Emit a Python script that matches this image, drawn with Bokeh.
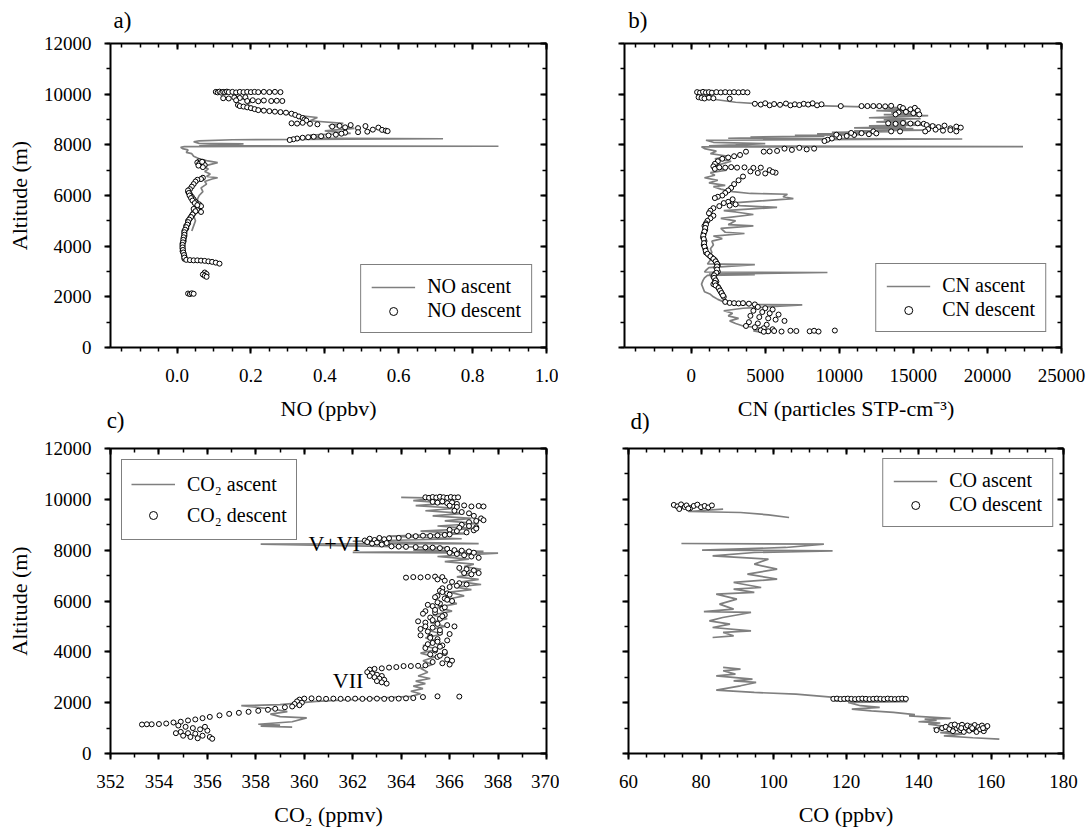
from bokeh.plotting import figure
from bokeh.models import (Range1d, LinearAxis, SingleIntervalTicker, FixedTicker, Legend,
                          LegendItem, ColumnDataSource, PrintfTickFormatter,
                          CustomJSTickFormatter)
from bokeh.layouts import row, column
from bokeh.core.properties import value
from bokeh.embed import file_html
from bokeh.resources import INLINE

NAN = float("nan")
FONT = "Liberation Serif"
GRAY = "#7f7f7f"

# ---------------- data ----------------
ALT_RANGE = (0, 12000)
ALT_TICKS = 2000
PANEL_LETTERS = ["a)", "b)", "c)", "d)"]

# Panel a: NO (ppbv)
NO_RANGE = (-0.18, 1.0)
NO_DESC_VAL = [0.105, 0.11, 0.115, 0.12, 0.125, 0.13, 0.135, 0.14, 0.15, 0.16,
               0.17, 0.18, 0.19, 0.20, 0.21, 0.22, 0.235, 0.25, 0.265, 0.28,
               0.125, 0.14, 0.155, 0.17, 0.185,
               0.16, 0.19, 0.205, 0.22, 0.235, 0.255, 0.27, 0.285,
               0.165, 0.17, 0.18, 0.19, 0.20, 0.21, 0.22, 0.235, 0.25, 0.265,
               0.28, 0.295, 0.31, 0.32, 0.33, 0.34, 0.345, 0.35,
               0.31, 0.325, 0.34, 0.36, 0.38,
               0.42, 0.44, 0.455, 0.47, 0.49, 0.51, 0.53, 0.545, 0.555, 0.565,
               0.57, 0.49, 0.515, 0.455,
               0.445, 0.43, 0.41, 0.39, 0.37, 0.355, 0.34, 0.325, 0.315, 0.305,
               0.06, 0.055, 0.07, 0.065, 0.075, 0.07, 0.06, 0.058, 0.068,
               0.07, 0.065, 0.055, 0.05, 0.045, 0.04, 0.035, 0.03, 0.035, 0.04,
               0.045, 0.05, 0.06, 0.065, 0.05, 0.055, 0.065, 0.045, 0.04, 0.035,
               0.03, 0.03, 0.025, 0.025, 0.02, 0.02, 0.02, 0.018, 0.018, 0.015,
               0.015, 0.015, 0.015, 0.018, 0.02, 0.02,
               0.03, 0.032, 0.034, 0.038, 0.042, 0.048, 0.055, 0.045, 0.05, 0.042,
               0.038, 0.033, 0.03, 0.028, 0.025, 0.022, 0.02, 0.02, 0.018, 0.017,
               0.016, 0.015, 0.015, 0.016, 0.017, 0.019, 0.02,
               0.025, 0.035, 0.045, 0.055, 0.065, 0.075, 0.085, 0.095, 0.105, 0.115,
               0.075, 0.08, 0.07, 0.075, 0.08,
               0.03, 0.035, 0.04, 0.045]
NO_DESC_ALT = [10090, 10070, 10100, 10060, 10090, 10070, 10100, 10080, 10090, 10070,
               10090, 10080, 10090, 10080, 10090, 10080, 10090, 10080, 10090, 10080,
               9840, 9830, 9870, 9850, 9880,
               9760, 9730, 9760, 9720, 9750, 9730, 9740, 9730,
               9570, 9530, 9510, 9480, 9450, 9410, 9370, 9350, 9330, 9310,
               9290, 9270, 9230, 9180, 9120, 9060, 9000, 8960,
               8850, 8840, 8870, 8830, 8810,
               8720, 8750, 8690, 8780, 8660, 8740, 8600, 8680, 8590, 8560,
               8540, 8500, 8520, 8480,
               8440, 8400, 8370, 8340, 8320, 8300, 8280, 8250, 8220, 8190,
               7350, 7300, 7320, 7250, 7200, 7120, 7250, 7180, 7330,
               6700, 6650, 6620, 6550, 6450, 6350, 6250, 6150, 6050, 5950,
               5850, 5750, 5650, 5580, 5500, 5420, 5350, 5300, 5200, 5100,
               5000, 4900, 4800, 4700, 4600, 4500, 4400, 4300, 4200, 4100,
               4000, 3900, 3800, 3700, 3600, 3500,
               6200, 6100, 6000, 5900, 5800, 5700, 5620, 5470, 5380, 5250,
               5150, 5050, 4950, 4850, 4750, 4650, 4550, 4450, 4350, 4250,
               4150, 4050, 3950, 3850, 3750, 3650, 3550,
               3460, 3450, 3440, 3440, 3430, 3420, 3400, 3380, 3350, 3310,
               2960, 2900, 2880, 2830, 2790,
               2130, 2110, 2140, 2120]
NO_ASC_VAL = [0.04, 0.045, 0.05, 0.045, 0.055, 0.07, 0.06, 0.055, 0.06, 0.07,
              0.065, 0.08, 0.075, 0.095, 0.11, 0.08, 0.09, 0.075, 0.085, 0.07,
              0.11, 0.08, 0.06, 0.045, 0.04, 0.025, 0.03, 0.015, 0.01, 0.02,
              0.87, 0.06, 0.18, 0.06, 0.045, 0.06, 0.15, 0.72, 0.3, 0.4,
              0.36, 0.47, 0.4, 0.48, 0.41, 0.45, 0.36, 0.38, 0.33, 0.29,
              0.25, 0.21, 0.19, 0.2, 0.17, 0.15, 0.2, 0.26]
NO_ASC_ALT = [4600, 4800, 5000, 5200, 5400, 5550, 5700, 5850, 6000, 6150,
              6300, 6450, 6550, 6650, 6700, 6750, 6850, 6950, 7050, 7150,
              7300, 7380, 7450, 7550, 7650, 7700, 7800, 7850, 7900, 7930,
              7945, 7960, 8040, 8060, 8120, 8160, 8200, 8240, 8270, 8300,
              8380, 8450, 8550, 8650, 8750, 8850, 8950, 9080, 9150, 9250,
              9350, 9450, 9550, 9700, 9850, 10000, 10080, 10100]

# Panel b: CN (particles STP-cm-3)
CN_RANGE = (-4500, 25000)
CN_DESC_VAL = [400, 600, 800, 1000, 1200, 1400, 1700, 2000, 2300, 2600, 2900, 3200, 3500, 3800,
               500, 700, 900, 1200, 1500, 2600,
               4300, 4700, 5000, 5300, 5600, 6000, 6400, 6700, 7000, 7300, 7600, 7900, 8200, 8500, 8800, 10100,
               11500, 11900, 12300, 12700, 13100, 13500, 14100,
               14300, 14800, 15100, 15300, 14500, 15000, 15400, 14000, 13800,
               13300, 13800, 14300, 14800, 15300, 15700,
               15900, 16300, 16700, 17100, 17500, 17900, 18200, 16500, 17000, 17500, 17900, 16000,
               12300, 13500, 14100, 15800,
               12500, 12000, 11500, 11000, 10500, 10000, 9500, 9200, 9000, 9800, 10800,
               8300, 7800, 7300, 6800, 6300, 5800, 5300, 4900,
               3700, 3300, 2900, 2500, 2100, 1800, 1600, 1500, 1600,
               1900, 2300, 2700, 3100, 3600, 4200, 4700, 5300, 5700, 5500, 5000, 4500, 4000,
               3500, 3200, 2900, 2700, 2500, 2300, 2100, 1800, 1600, 2800, 2500, 2200, 3000, 2600,
               1900, 1500, 1300, 1200, 1500, 1300, 1100, 1000,
               900, 950, 850, 800, 900, 850, 950, 1000, 1200, 1400, 1600, 1700, 1800, 1700,
               1800, 1600, 1500, 1600, 1700, 1500, 1800, 1900, 2000, 2100, 2200,
               1000, 950, 900, 820, 850, 870, 900, 980, 1100, 1300, 1500, 1650, 1750,
               1750, 1750, 1700, 1550, 1550, 1650, 1600, 1650, 1850, 1950, 2050, 2150,
               2300, 2600, 2900, 3200, 3500, 3900, 4300,
               4500, 5000, 5500, 4200, 4800, 5300, 5900, 4000, 4600, 5200, 5700, 6300,
               3900, 4500, 5100, 3700, 4300, 4900, 5500, 4700,
               5200, 5600, 6100, 6700, 7100, 8000, 8300, 8600, 9700, 4900]
CN_DESC_ALT = [10080, 10060, 10090, 10070, 10080, 10060, 10080, 10070, 10080, 10070, 10080, 10070, 10080, 10070,
               9880, 9850, 9830, 9860, 9840, 9820,
               9620, 9590, 9640, 9560, 9610, 9580, 9630, 9560, 9600, 9570, 9620, 9590, 9640, 9560, 9600, 9530,
               9530, 9530, 9530, 9530, 9520, 9540, 9500,
               9450, 9400, 9460, 9350, 9300, 9250, 9200, 9280, 9200,
               8850, 8830, 8860, 8840, 8850, 8830,
               8780, 8740, 8700, 8760, 8650, 8720, 8680, 8600, 8560, 8580, 8530, 8620,
               8530, 8530, 8530, 8530,
               8450, 8420, 8460, 8390, 8350, 8300, 8250, 8200, 8150, 8400, 8470,
               7850, 7820, 7880, 7800, 7850, 7760, 7740, 7730,
               7730, 7600, 7550, 7500, 7450, 7350, 7250, 7150, 7050,
               7110, 7100, 7120, 7100, 7110, 7090, 7100, 7000, 6900, 6930, 6870, 6890, 6950,
               6750, 6600, 6450, 6300, 6200, 6100, 6000, 5950, 5900, 5850, 5750, 5700, 5650, 5600,
               5580, 5500, 5400, 5300, 5200, 5100, 5000, 4900,
               4800, 4650, 4500, 4350, 4200, 4050, 3900, 3750, 3650, 3550, 3450, 3350, 3250, 3150,
               3000, 2900, 2800, 2700, 2600, 2500, 2400, 2300, 2200, 2100, 2000,
               4850, 4720, 4580, 4420, 4280, 4120, 3980, 3820, 3700, 3600, 3500, 3400, 3300,
               3200, 3080, 2950, 2850, 2750, 2650, 2550, 2450, 2350, 2250, 2150, 2050,
               1800, 1760, 1750, 1740, 1750, 1730, 1700,
               1600, 1550, 1500, 1450, 1400, 1350, 1300, 1250, 1200, 1150, 1100, 1050,
               1000, 950, 900, 850, 800, 760, 720, 680,
               640, 650, 630, 660, 650, 640, 660, 630, 670, 620]
CN_ASC_VAL = [5200, 4200, 4800, 3500, 3000, 2600, 3200, 2500, 2800, 2200,
              3500, 7500, 3000, 2200, 1800, 1500, 1300, 900, 800, 700,
              800, 900, 1100, 4300, 1200, 9200, 900, 1000, 1200, 4300,
              1100, 1300, 1200, 1400, 1300, 1500, 1400, 2100, 1500, 3600,
              2300, 2000, 4200, 2500, 3000, 2000, 4200, 3000, 2200, 5800,
              3300, 2600, 6900, 6200, 6500, 4000, 2800, 2000, 1500, 2300,
              1200, 1800, 900, 1600, 1300, 2400, 1500, 1800, 2700, 1600,
              2500, 1300, 1700, 900, 700, 22400, 1200, 3000, 5000, 1500,
              1000, 18300, 2500, 6000, 4000, 9000, 7000, 11500, 8500, 12500,
              9500, 13500, 11000, 16000, 12500, 15000, 11000, 14500, 12000, 16500,
              13500, 15500, 12500, 14500, 13000, 15500, 12000, 14000, 16000, 13000,
              15500, 13500, 14500, 12500, 15000, 13000, 14000, 11000, 9000, 7000,
              5000, 3000, 1500, 800, 1500, 3000]
CN_ASC_ALT = [560, 650, 760, 850, 950, 1050, 1150, 1250, 1350, 1450,
              1550, 1680, 1700, 1800, 1900, 2000, 2100, 2200, 2350, 2500,
              2650, 2750, 2850, 2880, 2900, 2960, 2980, 3050, 3150, 3270,
              3300, 3450, 3600, 3750, 3900, 4050, 4200, 4300, 4400, 4500,
              4550, 4700, 4800, 4850, 5000, 5100, 5250, 5350, 5400, 5530,
              5600, 5700, 5880, 5950, 6050, 6080, 6150, 6250, 6350, 6400,
              6500, 6600, 6700, 6800, 6900, 7000, 7100, 7200, 7350, 7450,
              7550, 7650, 7750, 7850, 7920, 7930, 7960, 8000, 8050, 8100,
              8180, 8230, 8260, 8290, 8310, 8340, 8370, 8400, 8430, 8460,
              8490, 8520, 8550, 8580, 8610, 8640, 8670, 8710, 8750, 8790,
              8830, 8870, 8910, 8950, 8990, 9030, 9070, 9110, 9150, 9190,
              9230, 9270, 9310, 9350, 9390, 9430, 9470, 9510, 9540, 9570,
              9600, 9680, 9800, 9900, 10000, 10060]

# Panel c: CO2 (ppmv)
CO2_RANGE = (352, 370)
CO2_DESC_VAL = [365.0, 365.15, 365.3, 365.45, 365.6, 365.75, 365.9, 366.05, 366.2, 366.35,
                365.3, 365.5, 365.7, 365.9, 366.1, 366.3,
                366.0, 366.3, 366.6, 366.9, 367.2, 367.4, 366.2, 366.5, 366.8, 367.0,
                367.3, 367.4, 367.1, 366.8, 366.5, 366.8, 367.1, 366.4, 366.0, 366.3,
                366.7, 367.0, 367.1,
                366.0, 365.8, 365.5, 365.2, 364.9, 364.6, 364.3, 363.9,
                363.5, 363.3, 363.1, 362.9, 362.7, 362.5, 362.6, 362.8, 363.0, 363.2, 363.4,
                363.6, 363.9, 364.2, 364.6, 365.0, 365.3, 365.6,
                365.9, 366.2, 366.5, 366.8, 366.0, 366.3, 366.6, 366.9, 367.2, 367.0,
                366.4, 366.7, 367.0, 367.2, 366.9, 366.6,
                364.2, 364.5, 364.8, 365.1, 365.4, 365.7,
                365.5, 365.8, 366.1, 366.4, 366.7, 366.3, 366.0, 365.7,
                365.6, 365.9, 365.5, 365.8, 366.1, 365.6, 365.3, 365.7, 365.0, 365.4,
                365.8, 365.2, 365.6, 364.7, 365.0, 365.5, 365.9, 366.2, 365.3, 364.8,
                365.1, 365.6, 366.0, 364.8, 365.2, 365.5, 365.9, 365.3, 365.7, 365.0,
                365.4, 365.8, 365.2, 365.5, 365.9, 366.1, 365.3, 365.7, 366.0,
                365.7, 366.0, 365.4, 365.9, 365.5, 365.1, 365.8, 365.4, 364.9, 365.7,
                365.3, 365.0, 365.6, 365.2, 365.5, 365.1, 365.6, 365.4, 365.8, 365.6,
                365.0, 364.7, 364.4, 364.1, 363.8, 363.5, 363.2, 362.9, 362.7,
                362.6, 362.8, 363.0, 363.2, 362.9, 363.1, 363.3, 363.0, 363.2, 363.4, 362.7,
                366.4, 365.5, 364.9, 364.5, 364.2, 363.9, 363.6, 363.3, 363.0, 362.7,
                362.4, 362.1, 361.8, 361.5, 361.2, 360.9, 360.6, 360.3, 360.0,
                359.8, 359.7, 359.9, 359.6, 359.8, 359.5,
                359.2, 358.8, 358.5, 358.1, 357.7, 357.3, 356.9, 356.5, 356.1, 355.8,
                355.5, 355.2, 354.9, 354.6, 354.3, 354.0, 353.7, 353.5, 353.3,
                354.8, 355.1, 355.4, 355.7, 356.0, 354.9, 355.2, 355.5, 355.8, 356.1,
                356.2, 355.6, 355.3, 355.0, 354.7, 355.9]
CO2_DESC_ALT = [10080, 10060, 10090, 10070, 10100, 10080, 10060, 10090, 10070, 10080,
                9900, 9870, 9920, 9850, 9880, 9820,
                9750, 9700, 9760, 9720, 9740, 9720, 9550, 9500, 9450, 9350,
                9250, 9180, 9150, 9100, 9000, 8950, 8900, 8880, 8800, 8750,
                8700, 8780, 8850,
                8620, 8600, 8580, 8560, 8570, 8550, 8560, 8480,
                8470, 8430, 8480, 8400, 8450, 8380, 8320, 8260, 8300, 8220, 8280,
                8150, 8140, 8130, 8120, 8110, 8100, 8080,
                8050, 8000, 7980, 7950, 7900, 7850, 7800, 7750, 7700, 7900,
                7300, 7250, 7200, 7100, 7050, 7100,
                6920, 6940, 6930, 6950, 6960, 6940,
                6850, 6800, 6750, 6700, 6650, 6600, 6550, 6500,
                6400, 6300, 6200, 6100, 6000, 5900, 5800, 5700, 5600, 5550,
                5450, 5350, 5300, 5200, 5150, 5100, 5050, 5000, 4950, 4900,
                4800, 4750, 4700, 4650, 4600, 4500, 4450, 4350, 4250, 4150,
                4050, 3950, 3900, 3800, 3700, 3650, 3600, 3550, 3500,
                6350, 6250, 6150, 6050, 5950, 5850, 5750, 5650, 5500, 5400,
                5250, 5000, 4850, 4550, 4400, 4300, 4200, 4100, 4000, 3850,
                3470, 3450, 3440, 3440, 3400, 3380, 3350, 3330, 3300,
                3200, 3150, 3100, 3050, 3000, 2950, 2900, 2850, 2800, 2750, 3050,
                2240, 2250, 2220, 2180, 2170, 2160, 2150, 2150, 2160, 2150,
                2150, 2160, 2150, 2150, 2160, 2150, 2160, 2170, 2160,
                2120, 2050, 2000, 1950, 1900, 1850,
                1820, 1760, 1720, 1680, 1640, 1600, 1560, 1500, 1440, 1390,
                1340, 1300, 1250, 1220, 1180, 1160, 1150, 1150, 1140,
                1100, 1050, 1000, 950, 900, 850, 800, 780, 700, 650,
                580, 600, 650, 700, 800, 1050]
CO2_ASC_VAL = [359.5, 358.2, 359.0, 358.1, 359.5, 360.1, 359.0, 358.6, 359.3, 358.7,
               357.4, 359.0, 360.5, 362.5, 364.4, 364.8, 364.4, 364.9, 364.5, 365.0,
               364.6, 365.2, 364.7, 365.1, 364.8, 365.3, 364.9, 365.4, 364.8, 365.5,
               364.9, 365.6, 365.0, 365.7, 365.1, 365.8, 365.2, 365.9, 365.3, 366.1,
               365.5, 366.3, 365.8, 366.6, 366.0, 366.9, 366.2, 367.3, 366.5, 367.2,
               366.3, 367.0, 366.4, 367.3, 366.6, 367.0, 365.8, 366.8, 365.5, 368.0,
               362.0, 367.4, 364.5, 366.0, 358.2, 367.2, 362.0, 366.5, 363.5, 366.8,
               364.8, 367.0, 365.5, 367.2, 365.8, 366.9, 365.3, 366.6, 365.0, 366.3,
               364.6, 366.0, 364.5, 365.5, 364.0]
CO2_ASC_ALT = [1040, 1080, 1120, 1150, 1250, 1400, 1450, 1550, 1650, 1750,
               1880, 1920, 2050, 2150, 2250, 2350, 2450, 2550, 2650, 2750,
               2850, 2950, 3050, 3200, 3350, 3500, 3650, 3800, 3950, 4100,
               4250, 4400, 4550, 4700, 4850, 5000, 5150, 5300, 5450, 5600,
               5750, 5900, 6050, 6200, 6350, 6450, 6550, 6650, 6750, 6850,
               6950, 7050, 7150, 7250, 7350, 7450, 7550, 7650, 7750, 7880,
               7910, 7950, 8000, 8100, 8240, 8260, 8350, 8450, 8550, 8650,
               8750, 8850, 8950, 9050, 9150, 9250, 9350, 9450, 9550, 9650,
               9750, 9850, 9950, 10050, 10080]
CO2_NOTE_TEXT = ["V+VI", "VII"]
CO2_NOTE_VAL = [362.30, 362.44]
CO2_NOTE_ALT = [8250, 2890]

# Panel d: CO (ppbv)
CO_RANGE = (60, 180)
CO_DESC_VAL = [72.5, 73.5, 74.5, 75.5, 76.0, 77.0, 78.0, 79.0, 80.0, 81.0, 82.0, 83.0, 74.0, 76.5,
               116.5, 117.5, 118.5, 119.5, 120.5, 121.5, 122.5, 123.5, 124.5, 125.5, 126.5,
               127.5, 128.5, 129.5, 130.5, 131.5, 132.5, 133.5, 134.5, 135.5, 136.5,
               145.0, 146.5, 147.5, 148.5, 149.0, 149.5, 150.5, 151.0, 151.5, 152.0,
               152.5, 153.0, 153.5, 154.0, 154.5, 155.0, 155.5, 156.0, 156.5, 157.0,
               157.5, 158.0, 158.5, 159.0, 150.0, 151.8, 154.8, 157.8]
CO_DESC_ALT = [9780, 9720, 9800, 9700, 9760, 9650, 9740, 9790, 9690, 9740, 9680, 9760, 9620, 9640,
               2150, 2160, 2140, 2150, 2160, 2150, 2140, 2150, 2160, 2150, 2140,
               2150, 2160, 2150, 2140, 2160, 2150, 2140, 2150, 2160, 2150,
               920, 1000, 1050, 960, 1120, 880, 1000, 1080, 920, 1130,
               850, 1020, 1100, 900, 1060, 960, 1120, 850, 1040, 950,
               1100, 880, 1010, 1080, 1140, 1000, 1000, 1000]
CO_ASC_VAL = [162.3, 155.0, 147.0, 152.0, 146.0, 150.0, 148.4, 144.0, 148.0, 142.7,
              146.0, 140.0, 145.0, 141.7, 148.9, 137.4, 139.0, 133.1, 127.0, 121.6,
              129.3, 124.0, 120.6, 136.9, 116.8, 135.0, 116.8, 106.2, 94.7, 84.2,
              90.9, 95.2, 89.0, 94.2, 84.2, 89.5, 86.1, 90.9, 86.1,
              NAN,
              83.2, 89.0, 86.1, 93.8, 83.2, 88.0, 82.3, 86.0, 93.8, 80.8,
              89.0, 85.1, 89.9, 84.2, 94.7, 89.0, 96.6, 89.0, 101.0, 92.8,
              101.0, 94.7, 98.6, 83.2, 94.7, 116.3, 80.3, 103.4, 113.9, 74.6,
              NAN,
              104.3, 98.6, 90.9, 76.5, 86.1]
CO_ASC_ALT = [566, 620, 697, 760, 820, 880, 960, 1000, 1060, 1156,
              1200, 1250, 1300, 1353, 1380, 1483, 1530, 1615, 1680, 1746,
              1812, 1880, 2013, 2040, 2074, 2139, 2205, 2336, 2402, 2494,
              2664, 2795, 2861, 2927, 3057, 3123, 3254, 3319, 3385,
              NAN,
              4565, 4631, 4762, 4827, 4958, 5090, 5221, 5350, 5549, 5580,
              5680, 5876, 6073, 6270, 6336, 6467, 6532, 6729, 6860, 7057,
              7253, 7450, 7647, 7778, 7909, 7975, 8000, 8106, 8237, 8263,
              NAN,
              9286, 9390, 9482, 9522, 9614]


# ---------------- helpers ----------------
def style_axis(ax, out, labels):
    ax.axis_line_width = 2
    ax.axis_line_color = "black"
    ax.major_tick_line_width = 2
    ax.minor_tick_line_width = 1.5
    ax.major_tick_line_color = "black"
    ax.minor_tick_line_color = "black"
    if out:
        ax.major_tick_out, ax.major_tick_in = 6, 0
        ax.minor_tick_out, ax.minor_tick_in = 4, 0
    else:
        ax.major_tick_out, ax.major_tick_in = 0, 6
        ax.minor_tick_out, ax.minor_tick_in = 0, 4
    ax.major_label_text_font = FONT
    if labels:
        ax.major_label_text_font_size = "19px"
        ax.major_label_text_color = "black"
    else:
        ax.major_label_text_font_size = "0px"
        ax.major_label_text_color = None
        ax.major_label_standoff = 0
    ax.axis_label_text_font = FONT
    ax.axis_label_text_font_size = "22px"
    ax.axis_label_text_font_style = "normal"
    ax.axis_label_text_color = "black"


def panel(xr, xint, xminor, xlabel, ylabel, fw, fh, bl, br, bt, bb,
          asc_x, asc_y, desc_x, desc_y, name, legend_loc, legend_margin,
          leg_row_h=22, leg_pad=10):
    p = figure(x_range=Range1d(*xr), y_range=Range1d(*ALT_RANGE),
               frame_width=fw, frame_height=fh,
               min_border_left=bl, min_border_right=br,
               min_border_top=bt, min_border_bottom=bb,
               output_backend="svg", toolbar_location=None,
               background_fill_color="white", border_fill_color="white")
    p.outline_line_color = None
    p.grid.visible = False
    bax = p.below[0]
    lax = p.left[0]
    bax.ticker = SingleIntervalTicker(interval=xint, num_minor_ticks=xminor)
    lax.ticker = SingleIntervalTicker(interval=ALT_TICKS, num_minor_ticks=2)
    style_axis(bax, True, True)
    style_axis(lax, True, ylabel is not None)
    bax.major_label_standoff = 15
    if xlabel is not None:
        bax.axis_label = xlabel
        bax.axis_label_standoff = 11
    if ylabel is not None:
        lax.axis_label = ylabel
        lax.major_label_standoff = 13
        lax.axis_label_standoff = 9
    ra = LinearAxis(ticker=SingleIntervalTicker(interval=ALT_TICKS, num_minor_ticks=2))
    style_axis(ra, False, False)
    p.add_layout(ra, "right")
    ta = LinearAxis(ticker=SingleIntervalTicker(interval=xint, num_minor_ticks=xminor))
    style_axis(ta, False, False)
    p.add_layout(ta, "above")

    lr = p.line(asc_x, asc_y, line_color=GRAY, line_width=1.7)
    sr = p.scatter(desc_x, desc_y, marker="circle", size=5, fill_color="white",
                   line_color="black", line_width=1)
    leg = Legend(items=[LegendItem(label=name + " ascent", renderers=[lr]),
                        LegendItem(label=name + " descent", renderers=[sr])],
                 location=legend_loc, margin=legend_margin,
                 border_line_color="black", border_line_width=1,
                 background_fill_color="white", background_fill_alpha=1,
                 label_text_font=FONT, label_text_font_size="20px",
                 label_text_color="black",
                 glyph_width=44, glyph_height=20, label_standoff=12,
                 padding=leg_pad, spacing=1, label_height=leg_row_h)
    p.add_layout(leg)
    return p


def top_text(p, letter, letter_x, letter_standoff, label=None, label_standoff=0):
    """Panel letter (and, for the lower row, the x-axis title of the panel above)."""
    ax = LinearAxis(ticker=FixedTicker(ticks=[letter_x], minor_ticks=[]),
                    formatter=CustomJSTickFormatter(args=dict(t=letter), code="return t"))
    ax.axis_line_color = None
    ax.major_tick_line_color = None
    ax.minor_tick_line_color = None
    ax.major_tick_out = ax.major_tick_in = 0
    ax.minor_tick_out = ax.minor_tick_in = 0
    ax.major_label_standoff = letter_standoff
    ax.major_label_text_font = FONT
    ax.major_label_text_font_size = "23px"
    ax.major_label_text_color = "black"
    if label is not None:
        ax.axis_label = label
        ax.axis_label_standoff = label_standoff
        ax.axis_label_text_font = FONT
        ax.axis_label_text_font_size = "22px"
        ax.axis_label_text_font_style = "normal"
        ax.axis_label_text_color = "black"
    p.add_layout(ax, "above")


pa = panel(NO_RANGE, 0.2, 4, None, "Altitude (m)", 436, 304, 110, 12, 43, 45,
           NO_ASC_VAL, NO_ASC_ALT, NO_DESC_VAL, NO_DESC_ALT, "NO", "bottom_right", 14)
pa.below[0].formatter = PrintfTickFormatter(format="%.1f")
pb = panel(CN_RANGE, 5000, 4, None, None, 437, 304, 66, 29, 43, 45,
           CN_ASC_VAL, CN_ASC_ALT, CN_DESC_VAL, CN_DESC_ALT, "CN", "bottom_right", 15)
pc = panel(CO2_RANGE, 2, 2, "CO\u2082 (ppmv)", "Altitude (m)", 436, 305, 110, 13, 56, 76,
           CO2_ASC_VAL, CO2_ASC_ALT, CO2_DESC_VAL, CO2_DESC_ALT, "CO\u2082", "top_left", 11,
           leg_row_h=30, leg_pad=9)
pd = panel(CO_RANGE, 20, 4, "CO (ppbv)", None, 435, 305, 69, 27, 56, 76,
           CO_ASC_VAL, CO_ASC_ALT, CO_DESC_VAL, CO_DESC_ALT, "CO", "top_right", 10)

notes = ColumnDataSource(dict(x=CO2_NOTE_VAL, y=CO2_NOTE_ALT, t=CO2_NOTE_TEXT))
pc.text(x="x", y="y", text="t", source=notes, text_font=value(FONT),
        text_font_size="22px", text_align="right", text_baseline="alphabetic",
        text_color="black")

top_text(pa, PANEL_LETTERS[0], -0.1475, 11)
top_text(pb, PANEL_LETTERS[1], -3600, 11)
top_text(pc, PANEL_LETTERS[2], 352.21, 16, "NO (ppbv)", -16)
top_text(pd, PANEL_LETTERS[3], 63.2, 15, "CN (particles STP-cm\u207b\u00b3)", -15)

layout = column(row(pa, pb), row(pc, pd))
open("out.html", "w").write(file_html(layout, INLINE))
